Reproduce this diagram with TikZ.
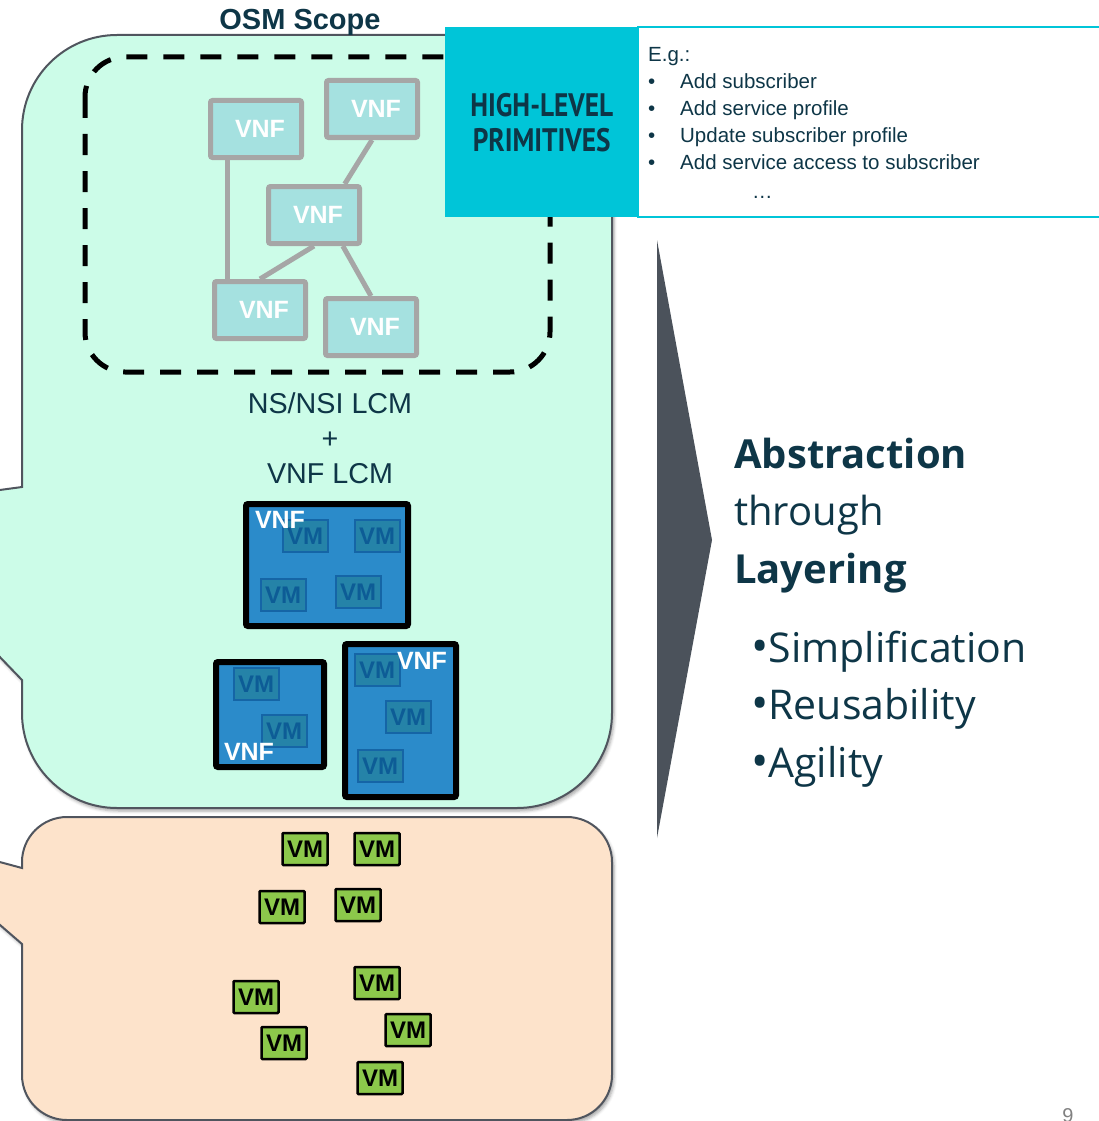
\documentclass[tikz,border=0pt]{standalone}
\usepackage{fontspec}
\setmainfont{Liberation Sans}
\newfontfamily\opensans{Open Sans}
\newfontfamily\ptsans{PT Sans}
\usetikzlibrary{calc,shadows.blur}

\definecolor{mint}{HTML}{CCFCE8}
\definecolor{peach}{HTML}{FDE3CB}
\definecolor{outline}{HTML}{50555E}
\definecolor{darkteal}{HTML}{0E3647}
\definecolor{vnfteal}{HTML}{A5E1E0}
\definecolor{vnfgray}{HTML}{A6A6A6}
\definecolor{vnfblue}{HTML}{2B8BCA}
\definecolor{vmfill}{HTML}{2583A8}
\definecolor{vmedge}{HTML}{1565A6}
\definecolor{vmtext}{HTML}{0D5C96}
\definecolor{vmgreen}{HTML}{8CC84B}
\definecolor{cyanbox}{HTML}{00C5D8}
\definecolor{chevron}{HTML}{4B525B}

\tikzset{
  callout/.style={draw=outline, line width=2,
    blur shadow={shadow xshift=2pt, shadow yshift=-3pt, shadow blur radius=3pt, shadow opacity=35}},
  scopeline/.style={draw=black, line width=5, dash pattern=on 21 off 16},
  vnfbox/.style={draw=vnfgray, fill=vnfteal, line width=5, rounded corners=2,
    minimum width=91, minimum height=57, text=white,
    font=\fontsize{25}{25}\selectfont\bfseries, execute at begin node=\hspace*{8pt}},
  vnflink/.style={draw=vnfgray, line width=5},
  vnfouter/.style={draw=black, fill=vnfblue, line width=6, rounded corners=2},
  vnflabel/.style={text=white, font=\fontsize{25}{25}\selectfont\bfseries},
  vmblue/.style={draw=vmedge, fill=vmfill, line width=2, minimum width=45, minimum height=32,
    text=vmtext, font=\fontsize{24}{24}\selectfont\bfseries},
  vmgreen/.style={draw=black, fill=vmgreen, line width=2.5, rounded corners=1,
    minimum width=45, minimum height=32, text=black, font=\fontsize{24}{24}\selectfont\bfseries},
  heading/.style={text=darkteal, font=\fontsize{29}{29}\selectfont\bfseries},
  lcmtext/.style={text=darkteal, font=\fontsize{28.7}{35}\selectfont},
  listtext/.style={text=darkteal, font=\fontsize{20.5}{27}\selectfont},
  bigtext/.style={text=darkteal, font=\opensans\fontsize{40}{57}\selectfont},
}

\begin{document}
\begin{tikzpicture}[x=1pt,y=-1pt,every node/.style={inner sep=0pt}]
  \useasboundingbox (0,0) rectangle (1099,1121);

  % OSM scope callout
  \path[callout, fill=mint] (22,487) -- (22,130) arc[start angle=180,end angle=270,radius=95]
    -- (517,35) arc[start angle=270,end angle=360,radius=95]
    -- (612,713) arc[start angle=0,end angle=90,radius=95]
    -- (117,808) arc[start angle=90,end angle=180,radius=95]
    -- (22,680) -- (-30,626) -- (-30,494) -- cycle;

  % infrastructure callout
  \path[callout, fill=peach] (22,868) -- (22,862) arc[start angle=180,end angle=270,radius=45]
    -- (567,817) arc[start angle=270,end angle=360,radius=45]
    -- (612,1075) arc[start angle=0,end angle=90,radius=45]
    -- (67,1120) arc[start angle=90,end angle=180,radius=45]
    -- (22,944) -- (-30,899) -- (-30,854) -- cycle;

  \node[heading, anchor=base] (osm) at (300,30) {OSM Scope};
  \draw[scopeline, rounded corners=40] (85,57) rectangle (550,372);

  % network service graph
  \node[vnfbox] (vnfa) at (256,129) {VNF};
  \node[vnfbox] (vnfb) at (372,109) {VNF};
  \node[vnfbox] (vnfc) at (314,215) {VNF};
  \node[vnfbox] (vnfd) at (260,310) {VNF};
  \node[vnfbox] (vnfe) at (371,327) {VNF};
  \coordinate (ta) at ($(vnfa.south west)!0.2!(vnfa.south east)$);
  \draw[vnflink] (ta) -- (ta |- vnfd.north);
  \draw[vnflink] (vnfb.south) -- ($(vnfc.north west)!0.82!(vnfc.north east)$);
  \draw[vnflink] (vnfc.south) -- (vnfd.north);
  \draw[vnflink] ($(vnfc.south west)!0.8!(vnfc.south east)$) -- (vnfe.north);

  \node[lcmtext, align=center] (lcm) at (330,438) {NS/NSI LCM\\+\\VNF LCM};

  % VNFs made of VMs
  \node[vnfouter, minimum width=162, minimum height=122] (vnfbig) at (327,565) {};
  \node[vnfouter, minimum width=108, minimum height=105] (vnfsmall) at (270,714.5) {};
  \node[vnfouter, minimum width=111, minimum height=153] (vnftall) at (400.5,720.5) {};
  \foreach[count=\k] \p in {{305,536},{377,536},{283,595},{358,592},{256,684},{284,731},{377,670},{408,717},{380,766}}
    \node[vmblue] (bvm\k) at (\p) {VM};
  \node[vnflabel] (lbig) at (280,520) {VNF};
  \node[vnflabel] (lsmall) at (249,752) {VNF};
  \node[vnflabel] (ltall) at (422,661) {VNF};

  % plain VMs
  \foreach[count=\k] \p in {{305,849},{377,849},{282,907},{358,905},{256,997},{377,983},{284,1043},{408,1030},{380,1078}}
    \node[vmgreen] (gvm\k) at (\p) {VM};

  % primitives banner
  \node[fill=cyanbox, minimum width=193, minimum height=190, anchor=north west,
    align=center, text=darkteal, font=\ptsans\fontsize{32.5}{35}\selectfont\bfseries] (hlp) at (445,27)
    {\scalebox{0.84}[1]{HIGH-LEVEL}\\\scalebox{0.84}[1]{PRIMITIVES}};
  \draw[cyanbox, line width=2, fill=white] (hlp.north east) rectangle ($(hlp.south east)+(480,0)$);
  \node[listtext, anchor=north west, align=left] (eg) at (648,47) {E.g.:\\
    \makebox[32pt][l]{•}Add subscriber\\
    \makebox[32pt][l]{•}Add service profile\\
    \makebox[32pt][l]{•}Update subscriber profile\\
    \makebox[32pt][l]{•}Add service access to subscriber\\[2pt]
    \hspace*{104pt}…};

  % layering
  \fill[chevron] (657,240) -- (712,540) -- (657,838) -- cycle;
  \node[bigtext, anchor=base west] (abs) at (734,468) {\bfseries Abstraction};
  \node[bigtext, anchor=base west] (thr) at (734,525) {through};
  \node[bigtext, anchor=base west] (lay) at (734,583) {\bfseries Layering};
  \foreach[count=\i, evaluate=\i as \yy using {662+57.5*(\i-1)}] \w in {Simplification,Reusability,Agility}
    \node[bigtext, anchor=base west, font=\opensans\fontsize{41}{57}\selectfont] (pt\i) at (751,\yy) {{\fontsize{46}{57}\selectfont•}\w};

  \node[text=gray, font=\fontsize{20}{20}\selectfont, anchor=base] (pg) at (1068,1122) {9};
\end{tikzpicture}
\end{document}
